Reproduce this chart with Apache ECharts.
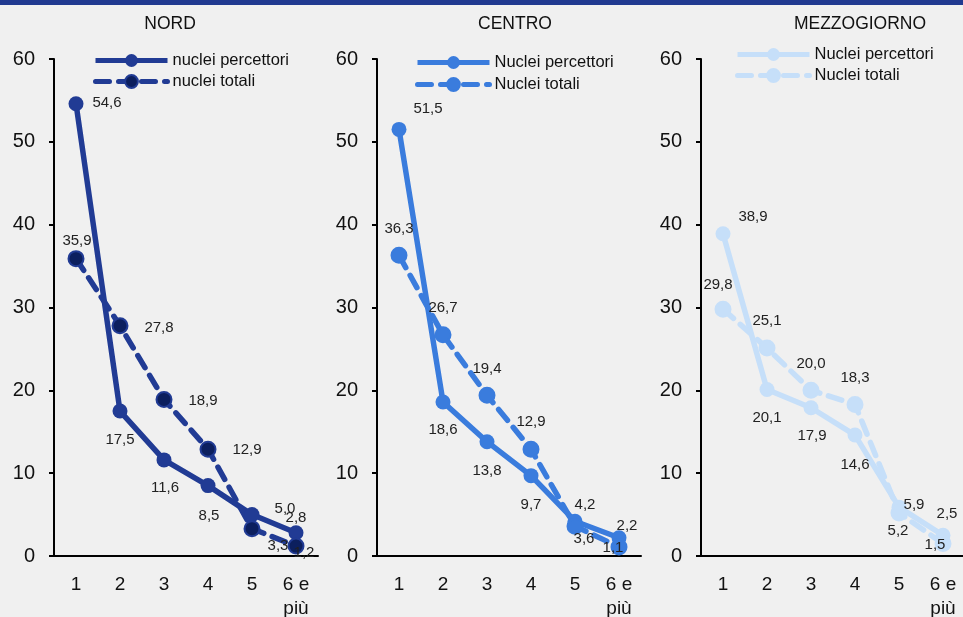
<!DOCTYPE html>
<html>
<head>
<meta charset="utf-8">
<script src="https://cdn.jsdelivr.net/npm/echarts@6/dist/echarts.min.js"></script>
<style>
html,body{margin:0;padding:0;background:#f0f0f0;}
#chart{width:963px;height:617px;}
</style>
</head>
<body>
<div id="chart"></div>
<script>
// ---- data ----
const categories = ['1', '2', '3', '4', '5', '6 e\npiù'];
const panelTitles = ['NORD', 'CENTRO', 'MEZZOGIORNO'];
const legendPercettori = ['nuclei percettori', 'Nuclei percettori', 'Nuclei percettori'];
const legendTotali = ['nuclei totali', 'Nuclei totali', 'Nuclei totali'];
const nordPercettori = [54.6, 17.5, 11.6, 8.5, 5.0, 2.8];
const nordTotali = [35.9, 27.8, 18.9, 12.9, 3.3, 1.2];
const centroPercettori = [51.5, 18.6, 13.8, 9.7, 4.2, 2.2];
const centroTotali = [36.3, 26.7, 19.4, 12.9, 3.6, 1.1];
const mezzPercettori = [38.9, 20.1, 17.9, 14.6, 5.9, 2.5];
const mezzTotali = [29.8, 25.1, 20.0, 18.3, 5.2, 1.5];
const yTicks = [0, 10, 20, 30, 40, 50, 60];

// ---- styling / layout ----
const colors = ['#213b94', '#3a7cdd', '#c6dff9'];
const totFill = ['#0c1f5e', '#3a7cdd', '#c6dff9'];
const gridLeft = [54, 377, 701];
const titleX = [170, 515, 860];
const legendPos = [[93, 52, 4], [415, 54, 5], [735, 46, 4]];
const offPerc = [
  [[31, -1], [0, 29], [1, 28], [1, 30], [33, -6], [0, -15]],
  [[29, -21], [0, 28], [0, 29], [0, 29], [10, -16], [8, -12]],
  [[30, -17], [0, 28], [1, 28], [0, 30], [15, -2], [4, -21]]
];
const offTot = [
  [[1, -18], [39, 2], [39, 1], [39, 1], [26, 17], [8, 7]],
  [[0, -26], [0, -27], [0, -26], [0, -27], [9, 13], [-6, 1]],
  [[-5, -24], [0, -27], [0, -26], [0, -27], [-1, 18], [-8, 1]]
];
const percData = [nordPercettori, centroPercettori, mezzPercettori];
const totData = [nordTotali, centroTotali, mezzTotali];
const FONT = 'Liberation Sans, Arial, sans-serif';

const fmt = v => v.toFixed(1).replace('.', ',');
const nameMap = {};

const grids = [], xAxes = [], yAxes = [], series = [], legends = [], graphics = [];
graphics.push({type: 'rect', x: 0, y: 0, shape: {width: 963, height: 5}, style: {fill: '#213a90'}});

for (let p = 0; p < 3; p++) {
  grids.push({left: gridLeft[p], top: 59, width: 264, height: 497, containLabel: false, outerBoundsMode: 'none'});
  xAxes.push({
    type: 'category', gridIndex: p, data: categories, boundaryGap: true,
    axisLine: {lineStyle: {color: '#000', width: 2}},
    axisTick: {show: false},
    axisLabel: {color: '#111', fontSize: 19, fontFamily: FONT, margin: 17, lineHeight: 24, interval: 0}
  });
  yAxes.push({
    type: 'value', gridIndex: p, min: yTicks[0], max: yTicks[yTicks.length - 1], interval: 10,
    splitLine: {show: false},
    axisLine: {show: true, lineStyle: {color: '#000', width: 2}},
    axisTick: {show: true, length: 5, lineStyle: {color: '#000', width: 2}},
    axisLabel: {color: '#111', fontSize: 20, fontFamily: FONT, margin: 19}
  });
  const keyP = 'P' + p, keyT = 'T' + p;
  nameMap[keyP] = legendPercettori[p];
  nameMap[keyT] = legendTotali[p];
  const mk = (vals, offs) => vals.map((v, i) => ({
    value: v,
    label: {offset: offs[i]}
  }));
  const lbl = {
    show: true, position: 'inside', color: '#222', fontSize: 15, fontFamily: FONT,
    textBorderWidth: 0, formatter: d => fmt(d.value)
  };
  series.push({
    name: keyP, type: 'line', xAxisIndex: p, yAxisIndex: p,
    data: mk(percData[p], offPerc[p]),
    symbol: 'circle', symbolSize: 15,
    lineStyle: {color: colors[p], width: 5.5},
    itemStyle: {color: colors[p]},
    label: lbl, animation: false
  });
  series.push({
    name: keyT, type: 'line', xAxisIndex: p, yAxisIndex: p,
    data: mk(totData[p], offTot[p]),
    symbol: 'circle', symbolSize: 15,
    lineStyle: {color: colors[p], width: 5.5, type: [14, 9], cap: 'round'},
    itemStyle: {color: totFill[p], borderColor: colors[p], borderWidth: 2},
    label: lbl, animation: false
  });
  legends.push({
    data: [keyP, keyT], orient: 'vertical', left: legendPos[p][0], top: legendPos[p][1],
    padding: 0, itemWidth: 72, itemHeight: 16, itemGap: legendPos[p][2],
    formatter: n => nameMap[n],
    lineStyle: {width: 5},
    textStyle: {color: '#111', fontSize: 16.5, fontFamily: FONT},
    selectedMode: false
  });
  graphics.push({
    type: 'text', x: titleX[p], y: 15,
    style: {text: panelTitles[p], fill: '#111', font: '17.5px ' + FONT, textAlign: 'center'}
  });
}

const chart = echarts.init(document.getElementById('chart'), null, {renderer: 'canvas'});
chart.setOption({
  backgroundColor: '#f0f0f0',
  animation: false,
  grid: grids, xAxis: xAxes, yAxis: yAxes, series: series, legend: legends, graphic: graphics
});
</script>
</body>
</html>
